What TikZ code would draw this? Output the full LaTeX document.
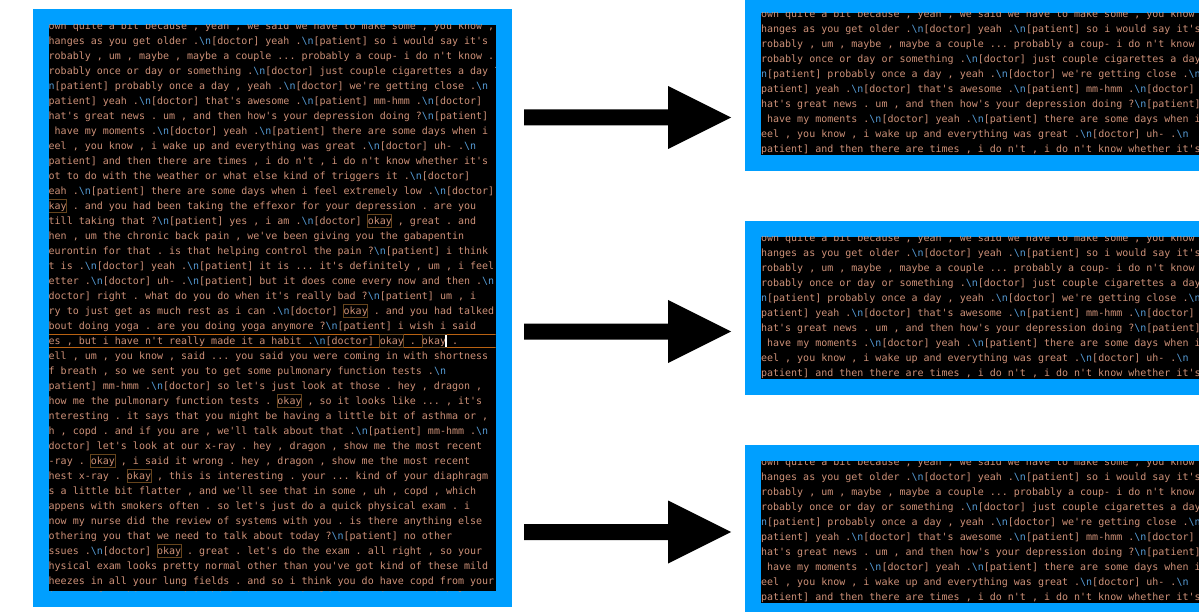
\documentclass[tikz,border=0pt]{standalone}
\usepackage{fontspec}
\setmonofont{DejaVu Sans Mono}
\usetikzlibrary{calc}

\definecolor{boxblue}{RGB}{0,159,255}
\definecolor{codetext}{RGB}{206,145,120}
\definecolor{nlblue}{RGB}{86,156,214}
\definecolor{okframe}{RGB}{102,68,28}
\definecolor{curline}{RGB}{185,98,18}

% escaped newline marker, shown in blue
\newcommand\nl{{\color{nlblue}\textbackslash n}}
% store one wrapped transcript line under a number
\newcommand\setcl[2]{\expandafter\def\csname cl#1\endcsname{#2}}

\setcl{0}{own quite a bit because , yeah , we said we have to make some , you know ,}
\setcl{1}{hanges as you get older .\nl[doctor] yeah .\nl[patient] so i would say it's}
\setcl{2}{robably , um , maybe , maybe a couple ... probably a coup- i do n't know .}
\setcl{3}{robably once or day or something .\nl[doctor] just couple cigarettes a day ?}
\setcl{4}{{\color{nlblue}n}[patient] probably once a day , yeah .\nl[doctor] we're getting close .\nl}
\setcl{5}{patient] yeah .\nl[doctor] that's awesome .\nl[patient] mm-hmm .\nl[doctor]}
\setcl{6}{hat's great news . um , and then how's your depression doing ?\nl[patient]}
\setcl{7}{\hphantom{i}have my moments .\nl[doctor] yeah .\nl[patient] there are some days when i}
\setcl{8}{eel , you know , i wake up and everything was great .\nl[doctor] uh- .\nl}
\setcl{9}{patient] and then there are times , i do n't , i do n't know whether it's}
\setcl{10}{ot to do with the weather or what else kind of triggers it .\nl[doctor]}
\setcl{11}{eah .\nl[patient] there are some days when i feel extremely low .\nl[doctor]}
\setcl{12}{kay . and you had been taking the effexor for your depression . are you}
\setcl{13}{till taking that ?\nl[patient] yes , i am .\nl[doctor] okay , great . and}
\setcl{14}{hen , um the chronic back pain , we've been giving you the gabapentin}
\setcl{15}{eurontin for that . is that helping control the pain ?\nl[patient] i think}
\setcl{16}{t is .\nl[doctor] yeah .\nl[patient] it is ... it's definitely , um , i feel}
\setcl{17}{etter .\nl[doctor] uh- .\nl[patient] but it does come every now and then .\nl}
\setcl{18}{doctor] right . what do you do when it's really bad ?\nl[patient] um , i}
\setcl{19}{ry to just get as much rest as i can .\nl[doctor] okay . and you had talked}
\setcl{20}{bout doing yoga . are you doing yoga anymore ?\nl[patient] i wish i said}
\setcl{21}{es , but i have n't really made it a habit .\nl[doctor] okay . okay .}
\setcl{22}{ell , um , you know , said ... you said you were coming in with shortness}
\setcl{23}{f breath , so we sent you to get some pulmonary function tests .\nl}
\setcl{24}{patient] mm-hmm .\nl[doctor] so let's just look at those . hey , dragon ,}
\setcl{25}{how me the pulmonary function tests . okay , so it looks like ... , it's}
\setcl{26}{nteresting . it says that you might be having a little bit of asthma or ,}
\setcl{27}{h , copd . and if you are , we'll talk about that .\nl[patient] mm-hmm .\nl}
\setcl{28}{doctor] let's look at our x-ray . hey , dragon , show me the most recent}
\setcl{29}{-ray . okay , i said it wrong . hey , dragon , show me the most recent}
\setcl{30}{hest x-ray . okay , this is interesting . your ... kind of your diaphragm}
\setcl{31}{s a little bit flatter , and we'll see that in some , uh , copd , which}
\setcl{32}{appens with smokers often . so let's just do a quick physical exam . i}
\setcl{33}{now my nurse did the review of systems with you . is there anything else}
\setcl{34}{othering you that we need to talk about today ?\nl[patient] no other}
\setcl{35}{ssues .\nl[doctor] okay . great . let's do the exam . all right , so your}
\setcl{36}{hysical exam looks pretty normal other than you've got kind of these mild}
\setcl{37}{heezes in all your lung fields . and so i think you do have copd from your}
\setcl{38}{istory of smoking , and i think that you should keep using your inhaler .}

% solid block arrow from #1 to the tip #2
\newcommand\blockarrow[2]{%
  \fill[black] ($(#1)+(0,-8)$) -- ($(#2)+(-63,-8)$) -- ($(#2)+(-63,-31.5)$)
    -- (#2) -- ($(#2)+(-63,31.5)$) -- ($(#2)+(-63,8)$) -- ($(#1)+(0,8)$) -- cycle;}

\begin{document}
\begin{tikzpicture}[x=1pt,y=-1pt,
  codeline/.style={anchor=base west, inner sep=0pt, outer sep=0pt, text=codetext,
    font=\ttfamily\frenchspacing\fontsize{10}{15}\selectfont},
  okbox/.style={draw=okframe, line width=0.8pt},
  hlrule/.style={draw=curline, line width=1pt}]
\useasboundingbox (0,0) rectangle (1199,612);
\clip (0,0) rectangle (1199,612);
\fill[white] (0,0) rectangle (1199,612);

% full transcript panel
\fill[boxblue] (33,9.5) rectangle (511.5,607);
\fill[black] (49,25) rectangle (495.5,591);
\begin{scope}
  \clip (49,25) rectangle (495.5,591);
  % current line rules
  \draw[hlrule] (49,334.5) -- (495.5,334.5);
  \draw[hlrule] (49,347.5) -- (495.5,347.5);
  % highlighted occurrences of "okay"
  \foreach \k/\c in {12/-1, 13/53, 19/49, 21/55, 21/62, 25/38, 29/7, 30/13, 35/18}
    \draw[okbox] ({48.7+6.02*\c},{29.5+15*\k-10}) rectangle ++(24.08,12.5);
  \foreach \i in {0,...,38}
    \node[codeline] (L\i) at (48.7,{29.5+15*\i}) {\csname cl\i\endcsname};
  % text cursor
  \draw[white, line width=1.3pt] ({48.7+6.02*66},334.8) -- ({48.7+6.02*66},347.2);
\end{scope}

% excerpt panels
\foreach \t/\b in {13/a, 237/b, 461/c} {
  \fill[boxblue] (745,{\t-16}) rectangle (1215,{\t+158});
  \fill[black] (761,\t) rectangle (1210,{\t+142});
  \begin{scope}
    \clip (761,\t) rectangle (1210,{\t+142});
    \foreach \i in {0,...,9}
      \node[codeline] (R\b\i) at (761.1,{\t+4.5+15*\i}) {\csname cl\i\endcsname};
  \end{scope}
}

% arrows between the panels
\coordinate (a1s) at (524,117.5);  \coordinate (a1e) at (731,117.5);
\coordinate (a2s) at (524,331.5);  \coordinate (a2e) at (731,331.5);
\coordinate (a3s) at (524,532);    \coordinate (a3e) at (731,532);
\blockarrow{a1s}{a1e}
\blockarrow{a2s}{a2e}
\blockarrow{a3s}{a3e}
\end{tikzpicture}
\end{document}
